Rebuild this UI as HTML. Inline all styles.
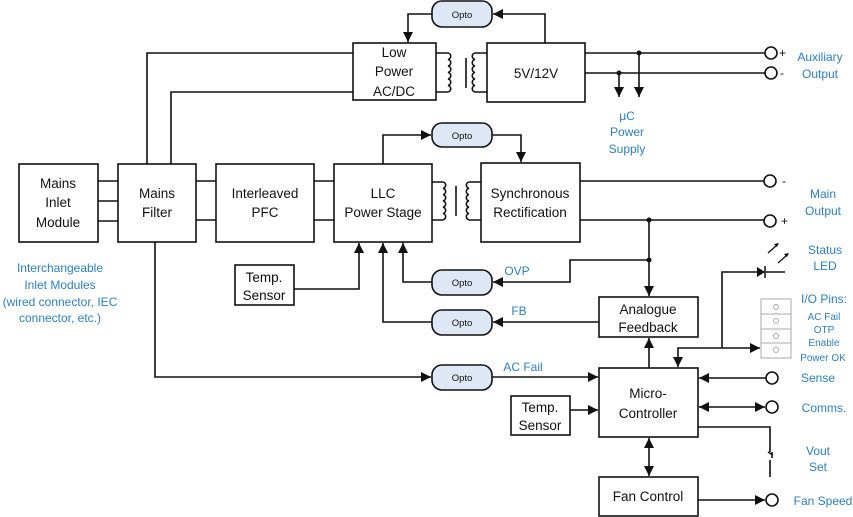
<!DOCTYPE html>
<html><head><meta charset="utf-8"><style>
html,body{margin:0;padding:0;background:#fff}
svg{display:block}
text{font-family:"Liberation Sans",sans-serif}
.b{font-size:13.5px;fill:#111;text-anchor:middle}
.l{font-size:12px;fill:#2e7fc0;text-anchor:middle}
.s{font-size:10px;fill:#2e7fc0;text-anchor:middle}
.o{font-size:9.5px;fill:#111;text-anchor:middle}
</style></head><body>
<svg width="853" height="517" viewBox="0 0 853 517" xmlns="http://www.w3.org/2000/svg">
<defs>
<marker id="a" viewBox="0 0 10 10" refX="10" refY="5" markerWidth="10" markerHeight="10" markerUnits="userSpaceOnUse" orient="auto-start-reverse"><path d="M0,0L10,5L0,10z" fill="#111"/></marker>
</defs>
<g fill="none" stroke="#111" stroke-width="1.6">
<rect x="19" y="164" width="79" height="78" fill="#fff"/>
<rect x="118" y="164" width="78" height="78" fill="#fff"/>
<rect x="216" y="164" width="98" height="78" fill="#fff"/>
<rect x="334" y="164" width="98" height="78" fill="#fff"/>
<rect x="353" y="43" width="83" height="57" fill="#fff"/>
<rect x="487" y="43" width="98" height="59" fill="#fff"/>
<rect x="481" y="163" width="99" height="79" fill="#fff"/>
<rect x="235" y="265" width="59" height="40" fill="#fff"/>
<rect x="599" y="297" width="99" height="40" fill="#fff"/>
<rect x="599" y="368" width="99" height="69" fill="#fff"/>
<rect x="511" y="396" width="59" height="39" fill="#fff"/>
<rect x="599" y="477" width="99" height="39" fill="#fff"/>
<path d="M98 181H118M98 201H118M98 221H118M196 181H216M196 220H216M314 181H334M314 220H334"/>
<path d="M147 164V53H353M171 164V92H353"/>
<path d="M155 242V377H431" marker-end="url(#a)"/>
<path d="M436 53H448M436 92H448M487 53H475M487 92H475"/>
<path d="M448 53a3.3 3.3 0 0 1 0 6.5a3.3 3.3 0 0 1 0 6.5a3.3 3.3 0 0 1 0 6.5a3.3 3.3 0 0 1 0 6.5a3.3 3.3 0 0 1 0 6.5a3.3 3.3 0 0 1 0 6.5"/>
<path d="M475 53a3.3 3.3 0 0 0 0 6.5a3.3 3.3 0 0 0 0 6.5a3.3 3.3 0 0 0 0 6.5a3.3 3.3 0 0 0 0 6.5a3.3 3.3 0 0 0 0 6.5a3.3 3.3 0 0 0 0 6.5"/>
<path d="M466 58V88"/>
<path d="M432 182H443M432 220H443M481 182H469M481 220H469"/>
<path d="M443 182a3.2 3.2 0 0 1 0 6.3a3.2 3.2 0 0 1 0 6.3a3.2 3.2 0 0 1 0 6.3a3.2 3.2 0 0 1 0 6.3a3.2 3.2 0 0 1 0 6.3a3.2 3.2 0 0 1 0 6.3"/>
<path d="M469 182a3.2 3.2 0 0 0 0 6.3a3.2 3.2 0 0 0 0 6.3a3.2 3.2 0 0 0 0 6.3a3.2 3.2 0 0 0 0 6.3a3.2 3.2 0 0 0 0 6.3a3.2 3.2 0 0 0 0 6.3"/>
<path d="M456 186V216"/>
<path d="M545 43V14H493" marker-end="url(#a)"/>
<path d="M432 14H408V42" marker-end="url(#a)"/>
<path d="M585 53H765M585 73H765"/>
<path d="M639 53V97" marker-end="url(#a)"/>
<path d="M619 73V97" marker-end="url(#a)"/>
<path d="M383 164V135H431" marker-end="url(#a)"/>
<path d="M492 135H521V162" marker-end="url(#a)"/>
<path d="M580 181H764M580 220H764"/>
<path d="M649 220V296" marker-end="url(#a)"/>
<path d="M649 260H570V282H493" marker-end="url(#a)"/>
<path d="M432 282H403V243" marker-end="url(#a)"/>
<path d="M599 322H493" marker-end="url(#a)"/>
<path d="M432 322H383V243" marker-end="url(#a)"/>
<path d="M294 289H359V243" marker-end="url(#a)"/>
<path d="M492 377H598" marker-end="url(#a)"/>
<path d="M570 410H598" marker-end="url(#a)"/>
<path d="M649 368V338" marker-end="url(#a)"/>
<path d="M649 438V476" marker-start="url(#a)" marker-end="url(#a)"/>
<path d="M722 348H678V367" marker-end="url(#a)"/>
<path d="M722 348H760" marker-end="url(#a)"/>
<path d="M722 348V272H757M765 272H785"/>
<path d="M766 378H699" marker-end="url(#a)"/>
<path d="M699 407H765" marker-start="url(#a)" marker-end="url(#a)"/>
<path d="M698 427H770V452M770 460V477M768 452l5 3M772 452V458"/>
<path d="M698 500H765" marker-end="url(#a)"/>
</g>
<path d="M757 267V277L765 272z" fill="#111"/><path d="M765 266V278" stroke="#111" stroke-width="1.5"/>
<g stroke="#111" stroke-width="1.3"><path d="M768 253L777 245M778 263L787 255"/></g>
<path d="M779 243l-5 1l3 3z M789 253l-5 1l3 3z" fill="#111"/>
<g fill="#111"><circle cx="639" cy="53" r="2.5"/><circle cx="619" cy="73" r="2.5"/><circle cx="649" cy="220" r="2.5"/><circle cx="649" cy="260" r="2.5"/></g>
<g fill="#fff" stroke="#111" stroke-width="1.6">
<circle cx="771" cy="53" r="6"/><circle cx="771" cy="73" r="6"/>
<circle cx="770" cy="181" r="6"/><circle cx="770" cy="221" r="6"/>
<circle cx="772" cy="378" r="6"/><circle cx="772" cy="407" r="6"/><circle cx="772" cy="500" r="6"/>
</g>
<g fill="#dde7f5" stroke="#111" stroke-width="1.6">
<rect x="432" y="1" width="60" height="26" rx="10"/>
<rect x="432" y="123" width="60" height="24" rx="10"/>
<rect x="432" y="270" width="60" height="25" rx="10"/>
<rect x="432" y="310" width="60" height="25" rx="10"/>
<rect x="432" y="365" width="60" height="25" rx="10"/>
</g>
<g class="o"><text x="462" y="18" class="o">Opto</text><text x="462" y="139" class="o">Opto</text><text x="462" y="286" class="o">Opto</text><text x="462" y="326" class="o">Opto</text><text x="462" y="381" class="o">Opto</text></g>
<g fill="#fff" stroke="#aaa" stroke-width="1"><rect x="761" y="299" width="30" height="15"/><rect x="761" y="314" width="30" height="15"/><rect x="761" y="329" width="30" height="14"/><rect x="761" y="343" width="30" height="15"/>
<circle cx="776" cy="307" r="2.5"/><circle cx="776" cy="321" r="2.5"/><circle cx="776" cy="336" r="2.5"/><circle cx="776" cy="350" r="2.5"/></g>
<text class="b" x="58" y="188">Mains</text><text class="b" x="58" y="207">Inlet</text><text class="b" x="58" y="227">Module</text>
<text class="b" x="157" y="198">Mains</text><text class="b" x="157" y="217">Filter</text>
<text class="b" x="265" y="198">Interleaved</text><text class="b" x="265" y="217">PFC</text>
<text class="b" x="383" y="198">LLC</text><text class="b" x="383" y="217">Power Stage</text>
<text class="b" x="394" y="57">Low</text><text class="b" x="394" y="76">Power</text><text class="b" x="394" y="96">AC/DC</text>
<text class="b" x="536" y="78">5V/12V</text>
<text class="b" x="530" y="198">Synchronous</text><text class="b" x="530" y="217">Rectification</text>
<text class="b" x="264" y="282">Temp.</text><text class="b" x="264" y="300">Sensor</text>
<text class="b" x="648" y="314">Analogue</text><text class="b" x="648" y="332">Feedback</text>
<text class="b" x="648" y="398">Micro-</text><text class="b" x="648" y="418">Controller</text>
<text class="b" x="540" y="412">Temp.</text><text class="b" x="540" y="430">Sensor</text>
<text class="b" x="648" y="501">Fan Control</text>
<g font-size="12" fill="#111"><text x="779" y="57">+</text><text x="780" y="77">-</text><text x="782" y="185">-</text><text x="781" y="225">+</text></g>
<text class="l" x="820" y="61">Auxiliary</text><text class="l" x="820" y="78">Output</text>
<text class="l" x="627" y="120">μC</text><text class="l" x="627" y="136">Power</text><text class="l" x="627" y="153">Supply</text>
<text class="l" x="823" y="198">Main</text><text class="l" x="823" y="215">Output</text>
<text class="l" x="825" y="254">Status</text><text class="l" x="825" y="270">LED</text>
<text class="l" x="824" y="303">I/O Pins:</text>
<text class="s" x="824" y="320">AC Fail</text><text class="s" x="824" y="333">OTP</text><text class="s" x="824" y="346">Enable</text><text class="s" x="823" y="361">Power OK</text>
<text class="l" x="818" y="382">Sense</text><text class="l" x="824" y="412">Comms.</text>
<text class="l" x="818" y="455">Vout</text><text class="l" x="818" y="471">Set</text>
<text class="l" x="823" y="505">Fan Speed</text>
<text class="l" x="517" y="275">OVP</text><text class="l" x="519" y="315">FB</text><text class="l" x="523" y="371">AC Fail</text>
<text class="l" x="60" y="272">Interchangeable</text><text class="l" x="60" y="289">Inlet Modules</text><text class="l" x="60" y="306">(wired connector, IEC</text><text class="l" x="60" y="322">connector, etc.)</text>
</svg>
</body></html>
